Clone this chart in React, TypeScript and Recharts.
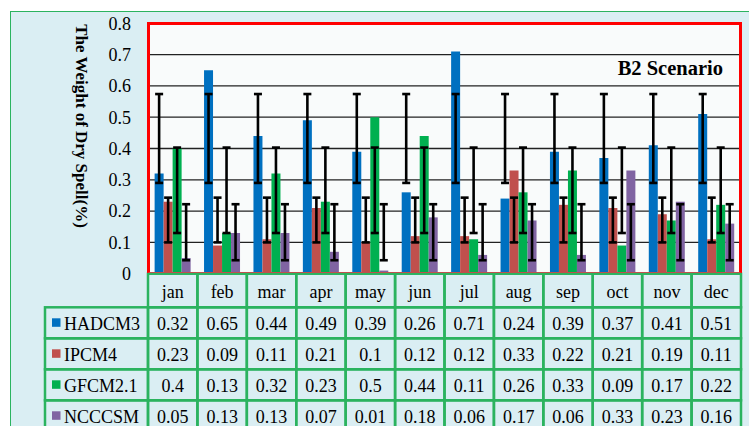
import React from 'react';
import { BarChart, Bar, XAxis, YAxis, CartesianGrid, ErrorBar } from 'recharts';

const MONTHS = ['jan', 'feb', 'mar', 'apr', 'may', 'jun', 'jul', 'aug', 'sep', 'oct', 'nov', 'dec'];
const SERIES_NAMES = ['HADCM3', 'IPCM4', 'GFCM2.1', 'NCCCSM'];
const HADCM3 = [0.32, 0.65, 0.44, 0.49, 0.39, 0.26, 0.71, 0.24, 0.39, 0.37, 0.41, 0.51];
const IPCM4 = [0.23, 0.09, 0.11, 0.21, 0.1, 0.12, 0.12, 0.33, 0.22, 0.21, 0.19, 0.11];
const GFCM21 = [0.4, 0.13, 0.32, 0.23, 0.5, 0.44, 0.11, 0.26, 0.33, 0.09, 0.17, 0.22];
const NCCCSM = [0.05, 0.13, 0.13, 0.07, 0.01, 0.18, 0.06, 0.17, 0.06, 0.33, 0.23, 0.16];
// error bar ranges (low, high), same for every month of a series
const ERR_LOW = [0.29, 0.1, 0.13, 0.043];
const ERR_HIGH = [0.574, 0.243, 0.403, 0.222];
const Y_TICKS = [0, 0.1, 0.2, 0.3, 0.4, 0.5, 0.6, 0.7, 0.8];

const COLORS = ['#0070C0', '#C0504D', '#00B050', '#8064A2'];
const SERIES_VALUES = [HADCM3, IPCM4, GFCM21, NCCCSM];
const KEYS = ['s0', 's1', 's2', 's3'];

const data = MONTHS.map((m, i) => {
  const row: any = { month: m };
  SERIES_VALUES.forEach((vals, s) => {
    row[KEYS[s]] = vals[i];
  });
  return row;
});

const W = 749;
const H = 426;
const PLOT_LEFT = 148;
const PLOT_RIGHT = 741;
const PLOT_TOP = 23.3;
const PLOT_BOTTOM = 273.7;
const COL_W = (PLOT_RIGHT - PLOT_LEFT) / MONTHS.length;
const HEADER_H = 33.6;
const ROW_H = 31;
const LEGEND_LEFT = 45;
const GREEN = '#2BB35F';
const FONT = "'Liberation Serif', 'Times New Roman', serif";
const FS = 18;

const TableTick = (props: any) => {
  const { x, y, payload, index } = props;
  const i = MONTHS.indexOf(payload.value);
  const left = x - COL_W / 2;
  const cells: any[] = [];
  cells.push(
    <rect key="h" x={left} y={y} width={COL_W} height={HEADER_H} fill="none" stroke={GREEN} strokeWidth={2.5} />
  );
  cells.push(
    <text key="ht" x={x} y={y + HEADER_H / 2 + 1} textAnchor="middle" dominantBaseline="central" fontFamily={FONT} fontSize={FS} fill="#000">
      {payload.value}
    </text>
  );
  SERIES_VALUES.forEach((vals, s) => {
    const ry = y + HEADER_H + s * ROW_H;
    cells.push(
      <rect key={'r' + s} x={left} y={ry} width={COL_W} height={ROW_H} fill="none" stroke={GREEN} strokeWidth={2.5} />
    );
    cells.push(
      <text key={'t' + s} x={x} y={ry + ROW_H / 2 + 1} textAnchor="middle" dominantBaseline="central" fontFamily={FONT} fontSize={FS} fill="#000">
        {String(vals[i])}
      </text>
    );
    if (index === 0) {
      cells.push(
        <rect key={'lr' + s} x={LEGEND_LEFT} y={ry} width={left - LEGEND_LEFT} height={ROW_H} fill="none" stroke={GREEN} strokeWidth={2.5} />
      );
      cells.push(<rect key={'lk' + s} x={LEGEND_LEFT + 7} y={ry + ROW_H / 2 - 4.5} width={8.5} height={8.5} fill={COLORS[s]} />);
      cells.push(
        <text key={'lt' + s} x={LEGEND_LEFT + 19} y={ry + ROW_H / 2 + 1} textAnchor="start" dominantBaseline="central" fontFamily={FONT} fontSize={FS} fill="#000">
          {SERIES_NAMES[s]}
        </text>
      );
    }
  });
  return <g>{cells}</g>;
};

export default function App() {
  return (
    <div style={{ position: 'absolute', left: 0, top: 0, width: W, height: H, background: '#fff', overflow: 'hidden' }}>
      <div
        style={{
          position: 'absolute',
          left: 10,
          top: 11,
          width: 780,
          height: 460,
          background: '#DAEEF3',
          border: '1.5px solid ' + GREEN,
          boxSizing: 'border-box',
        }}
      />
      <div style={{ position: 'absolute', left: 0, top: 0 }}>
        <BarChart
          width={W}
          height={H}
          data={data}
          margin={{ top: PLOT_TOP, right: W - PLOT_RIGHT, bottom: 2, left: PLOT_LEFT - 60 }}
          barCategoryGap="13.4%"
          barGap={0}
        >
          <CartesianGrid vertical={false} horizontal stroke="#222" strokeWidth={1.3} fill="#F9FBFB" />
          <XAxis
            dataKey="month"
            height={H - 2 - PLOT_BOTTOM}
            axisLine={false}
            tickLine={false}
            tickSize={0}
            tickMargin={0}
            interval={0}
            tick={<TableTick />}
          />
          <YAxis
            width={60}
            domain={[0, 0.8]}
            ticks={Y_TICKS}
            axisLine={false}
            tickLine={false}
            tickSize={0}
            tickMargin={17}
            tick={{ fontFamily: FONT, fontSize: FS, fill: '#000' }}
          />
          {KEYS.map((k, s) => (
            <Bar key={k} dataKey={k} name={SERIES_NAMES[s]} fill={COLORS[s]} isAnimationActive={false}>
              <ErrorBar
                dataKey={(d: any) => [d[k] - ERR_LOW[s], ERR_HIGH[s] - d[k]]}
                direction="y"
                width={4}
                strokeWidth={2.6}
                stroke="#000"
                isAnimationActive={false}
              />
            </Bar>
          ))}
        </BarChart>
      </div>
      {/* plot area red border */}
      <div
        style={{
          position: 'absolute',
          left: PLOT_LEFT - 1,
          top: PLOT_TOP - 1.5,
          width: PLOT_RIGHT - PLOT_LEFT + 2,
          height: PLOT_BOTTOM - PLOT_TOP + 1,
          borderLeft: '3.5px solid #FF0000',
          borderRight: '3.5px solid #FF0000',
          borderTop: '3.5px solid #FF0000',
          borderBottom: '1px solid #C0504D',
          boxSizing: 'border-box',
          pointerEvents: 'none',
        }}
      />
      <div
        style={{
          position: 'absolute',
          left: 0,
          width: 723,
          top: 56,
          lineHeight: '24px',
          textAlign: 'right',
          fontFamily: FONT,
          fontWeight: 'bold',
          fontSize: 20.5,
          color: '#000',
        }}
      >
        B2 Scenario
      </div>
      <div
        style={{
          position: 'absolute',
          left: 81,
          top: 126,
          transform: 'translate(-50%, -50%) rotate(90deg)',
          whiteSpace: 'nowrap',
          fontFamily: FONT,
          fontWeight: 'bold',
          fontSize: 17,
          lineHeight: '20px',
          color: '#000',
        }}
      >
        The Weight of Dry Spell(%)
      </div>
    </div>
  );
}
